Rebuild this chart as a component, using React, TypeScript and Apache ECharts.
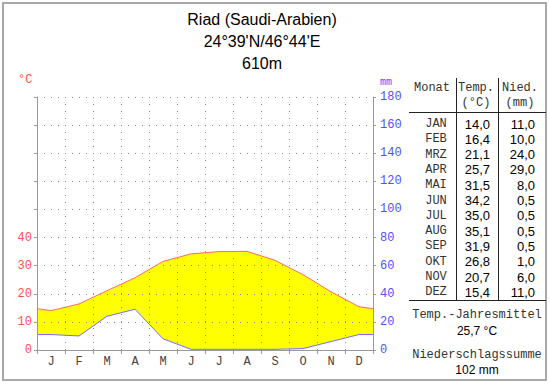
import React, { useEffect, useRef } from "react";
import * as echarts from "echarts";

const MONTH_LETTERS = ["J", "F", "M", "A", "M", "J", "J", "A", "S", "O", "N", "D"];
const MONTH_ABBR = ["JAN", "FEB", "MRZ", "APR", "MAI", "JUN", "JUL", "AUG", "SEP", "OKT", "NOV", "DEZ"];
const TEMP = [14.0, 16.4, 21.1, 25.7, 31.5, 34.2, 35.0, 35.1, 31.9, 26.8, 20.7, 15.4];
const PRECIP = [11.0, 10.0, 24.0, 29.0, 8.0, 0.5, 0.5, 0.5, 0.5, 1.0, 6.0, 11.0];
const TITLE_LINES = ["Riad (Saudi-Arabien)", "24°39'N/46°44'E", "610m"];

const fmt = (v: number) => (Math.round(v * 10 + 1e-6) / 10).toFixed(1).replace(".", ",");

function withEdges(vals: number[]): [number, number][] {
  const edge = (vals[0] + vals[vals.length - 1]) / 2;
  const pts: [number, number][] = [[0, edge]];
  vals.forEach((v, i) => pts.push([i + 0.5, v]));
  pts.push([12, edge]);
  return pts;
}

export default function App() {
  const ref = useRef<HTMLDivElement>(null);
  useEffect(() => {
    document.body.style.margin = "0";
    const chart = echarts.init(ref.current!, null, { renderer: "svg" });
    const tempPts = withEdges(TEMP);
    const precPts = withEdges(PRECIP.map((p) => p / 2));

    const mono = "Liberation Mono";
    const sans = "Liberation Sans";
    const meanT = TEMP.reduce((a, b) => a + b, 0) / TEMP.length;
    const sumP = PRECIP.reduce((a, b) => a + b, 0);

    const graphics: any[] = [
      {
        type: "rect",
        shape: { x: 3, y: 3, width: 543, height: 377 },
        style: { fill: "none", stroke: "#a8a8a8", lineWidth: 2 },
      },
    ];
    TITLE_LINES.forEach((t, i) => {
      graphics.push({
        type: "text",
        x: 262,
        y: 19 + i * 22,
        style: { text: t, font: `16px ${sans}`, fill: "#000", align: "center", verticalAlign: "middle" },
      });
    });
    graphics.push({
      type: "text", x: 18, y: 80,
      style: { text: "°C", font: `12px ${mono}`, fill: "#ff5050", align: "left", verticalAlign: "middle" },
    });
    graphics.push({
      type: "text", x: 380, y: 82,
      style: { text: "mm", font: `10px ${mono}`, fill: "#5050ff", align: "left", verticalAlign: "middle" },
    });
    const hdr = (t: string, x: number, y: number) =>
      graphics.push({
        type: "text", x, y,
        style: { text: t, font: `12px ${mono}`, fill: "#333", align: "center", verticalAlign: "middle" },
      });
    hdr("Monat", 432, 88);
    hdr("Temp.", 476, 88);
    hdr("(°C)", 476, 103);
    hdr("Nied.", 520, 88);
    hdr("(mm)", 520, 103);
    const ln = (x1: number, y1: number, x2: number, y2: number) =>
      graphics.push({
        type: "line",
        shape: { x1, y1, x2, y2 },
        style: { stroke: "#222", lineWidth: 1 },
      });
    ln(456.5, 78, 456.5, 300);
    ln(498.5, 78, 498.5, 300);
    ln(409, 112.5, 546, 112.5);
    ln(409, 300.5, 546, 300.5);
    MONTH_ABBR.forEach((m, i) => {
      const y = 124 + i * 15.3;
      graphics.push({
        type: "text", x: 436, y,
        style: { text: m, font: `12px ${mono}`, fill: "#333", align: "center", verticalAlign: "middle" },
      });
      graphics.push({
        type: "text", x: 490, y,
        style: { text: fmt(TEMP[i]), font: `13px ${sans}`, fill: "#000", align: "right", verticalAlign: "middle" },
      });
      graphics.push({
        type: "text", x: 535, y,
        style: { text: fmt(PRECIP[i]), font: `13px ${sans}`, fill: "#000", align: "right", verticalAlign: "middle" },
      });
    });
    graphics.push({
      type: "text", x: 477, y: 315,
      style: { text: "Temp.-Jahresmittel", font: `12px ${mono}`, fill: "#333", align: "center", verticalAlign: "middle" },
    });
    graphics.push({
      type: "text", x: 477, y: 331,
      style: { text: `${fmt(meanT)} °C`, font: `12px ${sans}`, fill: "#000", align: "center", verticalAlign: "middle" },
    });
    graphics.push({
      type: "text", x: 477, y: 355,
      style: { text: "Niederschlagssumme", font: `12px ${mono}`, fill: "#333", align: "center", verticalAlign: "middle" },
    });
    graphics.push({
      type: "text", x: 477, y: 370,
      style: { text: `${Math.round(sumP)} mm`, font: `12px ${sans}`, fill: "#000", align: "center", verticalAlign: "middle" },
    });

    const dotted = { color: "#888", width: 1, type: [1, 6] as any };

    chart.setOption({
      animation: false,
      backgroundColor: "#fff",
      grid: { left: 37, right: 177, top: 97, bottom: 34 },
      xAxis: [
        {
          type: "value", min: 0, max: 12, interval: 1, z: 10,
          axisLine: { show: true, lineStyle: { color: "#999" } },
          axisTick: { show: true, length: 4, lineStyle: { color: "#999" } },
          axisLabel: { show: false },
          splitLine: { show: true, lineStyle: dotted },
        },
        {
          type: "category", data: MONTH_LETTERS, position: "bottom", boundaryGap: true,
          axisLine: { show: false }, axisTick: { show: false }, splitLine: { show: false },
          axisLabel: { color: "#444", fontFamily: mono, fontSize: 12, margin: 6 },
        },
      ],
      yAxis: [
        {
          type: "value", min: 0, max: 90, interval: 10, z: 10,
          axisLine: { show: true, lineStyle: { color: "#999" } },
          axisTick: { show: true, length: 3, lineStyle: { color: "#999" } },
          axisLabel: {
            color: "#ff5050", fontFamily: mono, fontSize: 12, margin: 5,
            formatter: (v: number) => (v <= 40 ? String(v) : ""),
          },
          splitLine: { show: true, lineStyle: dotted },
        },
        {
          type: "value", min: 0, max: 180, interval: 20, position: "right", z: 10,
          axisLine: { show: true, lineStyle: { color: "#999" } },
          axisTick: { show: true, length: 3, lineStyle: { color: "#999" } },
          axisLabel: { color: "#5050ff", fontFamily: mono, fontSize: 12, margin: 7 },
          splitLine: { show: false },
        },
      ],
      series: [
        {
          type: "custom",
          xAxisIndex: 0,
          yAxisIndex: 0,
          data: [[0, 0]],
          silent: true,
          z: 1,
          renderItem: (_params: any, api: any) => {
            const top = tempPts.map((p) => api.coord(p));
            const bot = precPts.slice().reverse().map((p) => api.coord(p));
            return {
              type: "polygon",
              shape: { points: top.concat(bot) },
              style: { fill: "#ffff00", stroke: "none" },
            };
          },
        },
        {
          type: "line", data: tempPts, symbol: "none", silent: true,
          lineStyle: { color: "#ff6a6a", width: 1 }, z: 3,
        },
        {
          type: "line", data: precPts, symbol: "none", silent: true,
          lineStyle: { color: "#7070ff", width: 1 }, z: 3,
        },
      ],
      graphic: graphics,
    });
    return () => chart.dispose();
  }, []);
  return (
    <div
      ref={ref}
      style={{ position: "fixed", left: 0, top: 0, width: 550, height: 384, background: "#fff" }}
    />
  );
}
